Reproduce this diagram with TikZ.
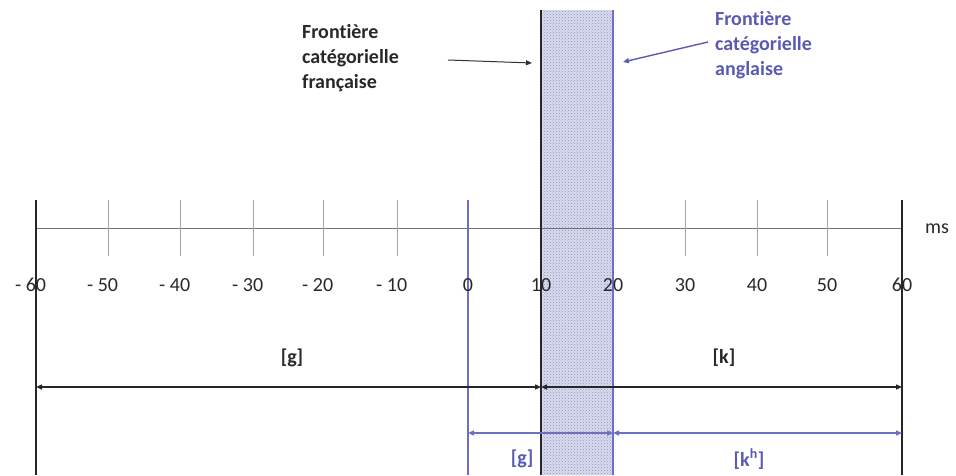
\documentclass[tikz,border=0pt]{standalone}
\usepackage{fontspec}
\setmainfont{Carlito}[Ligatures=NoCommon]
\usetikzlibrary{arrows.meta,patterns}
\definecolor{eng}{RGB}{90,90,178}
\definecolor{engline}{RGB}{110,110,196}
\definecolor{bandc}{RGB}{218,220,238}
\definecolor{dotc}{RGB}{140,142,190}
\definecolor{txt}{RGB}{40,40,40}
\newcommand{\frontiere}{Front\kern0pt ière}
\begin{document}
\begin{tikzpicture}[x=1pt,y=-1pt,
  lbl/.style={font=\fontsize{20}{25}\selectfont\bfseries, text=txt, align=left, inner sep=0pt},
  englbl/.style={lbl, text=eng},
  tick/.style={draw=gray!70, line width=0.8pt},
  num/.style={font=\fontsize{20}{24}\selectfont, text=txt, inner sep=0pt},
  bound/.style={draw=black!85, line width=1.6pt},
  blk/.style={draw=black!85, line width=1.4pt, {Triangle[length=6pt,width=5pt]}-{Triangle[length=6pt,width=5pt]}},
  blu/.style={draw=engline, line width=1.4pt, {Triangle[length=6pt,width=5pt]}-{Triangle[length=6pt,width=5pt]}},
  ptr/.style={line width=1pt, -{Triangle[length=6pt,width=5pt]}}
]
\useasboundingbox (0,0) rectangle (956,475);
% band
\fill[bandc] (541,10) rectangle (613,475);
\fill[pattern=crosshatch dots, pattern color=dotc] (541,10) rectangle (613,475);
% axis
\coordinate (axL) at (36,228);
\coordinate (axR) at (902,228);
\draw[gray!90!black, line width=0.8pt] (axL) -- (axR);
% ticks
\foreach \x in {108,180,253,323,397,685,757,827}
  \draw[tick] (\x,200) -- (\x,256);
% boundaries
\coordinate (m60t) at (36,200);   \coordinate (m60b) at (36,475);
\coordinate (p60t) at (902,200);  \coordinate (p60b) at (902,475);
\coordinate (z0t) at (468,200);   \coordinate (z0b) at (468,475);
\coordinate (t10t) at (541,10);   \coordinate (t10b) at (541,475);
\coordinate (t20t) at (613,10);   \coordinate (t20b) at (613,475);
\draw[bound] (m60t) -- (m60b);
\draw[bound] (p60t) -- (p60b);
\draw[bound, line width=1.4pt] (t10t) -- (t10b);
\draw[draw=engline, line width=1.6pt] (z0t) -- (z0b);
\draw[draw=engline, line width=1.6pt] (t20t) -- (t20b);
% numbers
\node[num] (n1) at (36,285) {\llap{- }60};
\node[num] (n2) at (108,285) {\llap{- }50};
\node[num] (n3) at (180,285) {\llap{- }40};
\node[num] (n4) at (253,285) {\llap{- }30};
\node[num] (n5) at (323,285) {\llap{- }20};
\node[num] (n6) at (397,285) {\llap{- }10};
\node[num] (n7) at (468,285) {0};
\node[num] (n8) at (541,285) {10};
\node[num] (n9) at (613,285) {20};
\node[num] (n10) at (685,285) {30};
\node[num] (n11) at (757,285) {40};
\node[num] (n12) at (827,285) {50};
\node[num] (n13) at (902,285) {60};
\node[num, anchor=west] (ms) at (925,229) {ms};
% top labels
\node[lbl, anchor=west] (fr) at (302,58) {\frontiere\\catégorielle\\française};
\node[englbl, anchor=west] (en) at (715,45) {\frontiere\\catégorielle\\anglaise};
\coordinate (frs) at (448,60); \coordinate (fre) at (532,63);
\coordinate (ens) at (708,42); \coordinate (ene) at (623,62);
\draw[ptr, draw=black!80] (frs) -- (fre);
\draw[ptr, draw=eng, line width=1.4pt] (ens) -- (ene);
% french categories
\coordinate (ga) at (36,387); \coordinate (gb) at (541,387); \coordinate (kb) at (902,387);
\draw[blk] (ga) -- (gb);
\draw[blk] (gb) -- (kb);
\node[lbl] (fg) at (292,358) {[g]};
\node[lbl] (fk) at (724,358) {[k]};
% english categories
\coordinate (ea) at (468,433); \coordinate (eb) at (613,433); \coordinate (ec) at (902,433);
\draw[blu] (ea) -- (eb);
\draw[blu] (eb) -- (ec);
\node[englbl] (eg) at (522,459) {[g]};
\node[englbl] (ek) at (749,459) {[k\textsuperscript{h}]};
\end{tikzpicture}
\end{document}
